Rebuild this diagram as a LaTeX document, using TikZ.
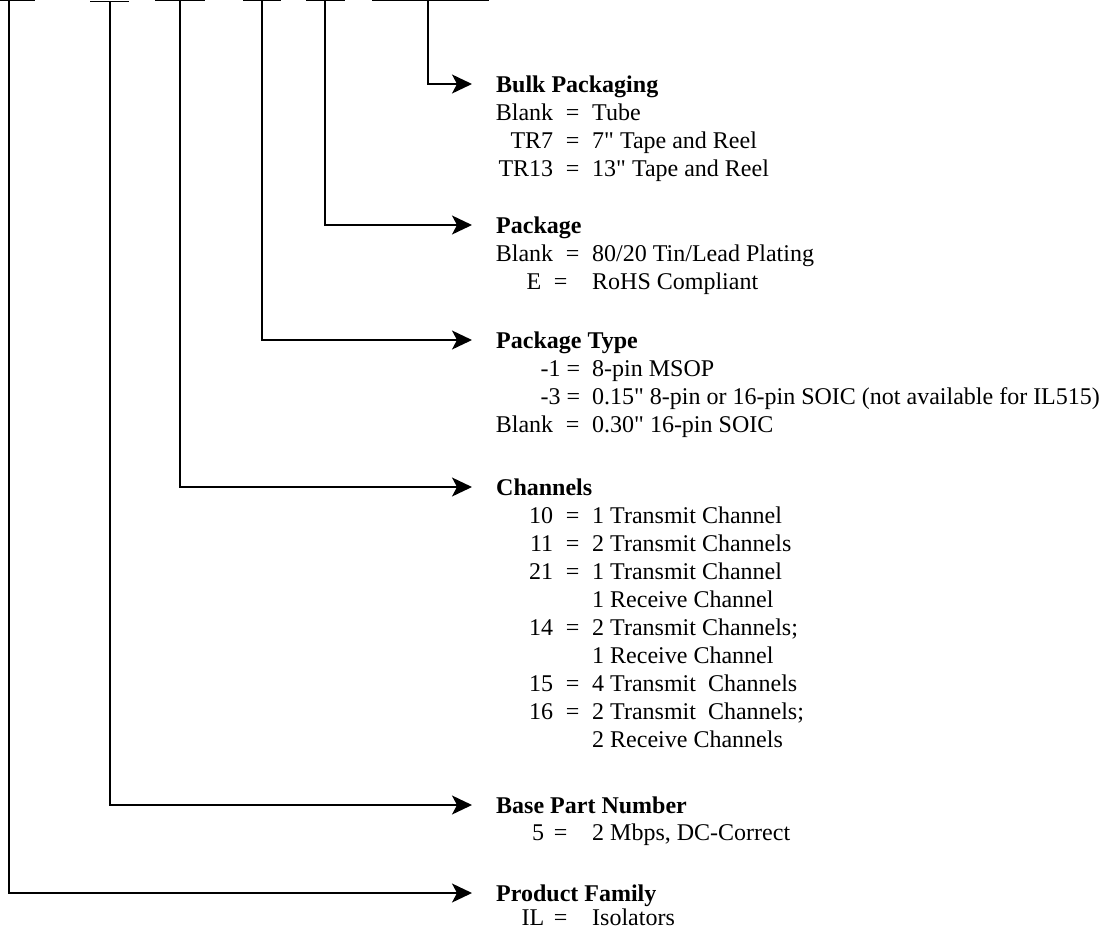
\documentclass[tikz,border=0pt]{standalone}
\usepackage{fontspec}
\setmainfont{Liberation Serif}[Ligatures=TeXOff]
\usetikzlibrary{arrows.meta}
\newcommand{\rw}[2]{\makebox[57pt][r]{#1}\makebox[39pt]{=}#2}
\newcommand{\rc}[1]{\hspace*{96pt}#1}
\begin{document}
\begin{tikzpicture}[x=1pt,y=-1pt,
  bar/.style={line width=1.4pt},
  conn/.style={line width=1.4pt,-{Stealth[length=20pt,width=19pt,inset=5pt]}},
  head/.style={anchor=base west,inner sep=0pt,font=\fontsize{24}{28}\selectfont\bfseries},
  body/.style={anchor=base west,inner sep=0pt,font=\fontsize{24}{28}\selectfont}]
\useasboundingbox (0,0) rectangle (1103,930);
% top placeholder bars
\draw[bar] (0,0.7) -- (35,0.7);
\draw[bar] (90,1.6) -- (129,1.6);
\draw[bar] (155,0.7) -- (205,0.7);
\draw[bar] (243,0.7) -- (281,0.7);
\draw[bar] (306,0.7) -- (345,0.7);
\draw[bar] (372,0.7) -- (489,0.7);
\coordinate (t1) at (9,0.7);
\coordinate (t2) at (110,1.6);
\coordinate (t3) at (180,0.7);
\coordinate (t4) at (262,0.7);
\coordinate (t5) at (325,0.7);
\coordinate (t6) at (428,0.7);
% sections
\node[head] (h6) at (496,92) {Bulk Packaging};
\node[body] (b6) at (496,120) {\begin{tabular}[t]{@{}l@{}}\rw{Blank}{Tube}\\ \rw{TR7}{7" Tape and Reel}\\ \rw{TR13}{13" Tape and Reel}\end{tabular}};
\node[head] (h5) at (496,233) {Package};
\node[body] (b5) at (496,261) {\begin{tabular}[t]{@{}l@{}}\rw{Blank}{80/20 Tin/Lead Plating}\\ \makebox[45pt][r]{E}\makebox[39pt]{=}\hspace*{12pt}RoHS Compliant\end{tabular}};
\node[head] (h4) at (496,348) {Package Type};
\node[body] (b4) at (496,376) {\begin{tabular}[t]{@{}l@{}}\makebox[84pt][r]{-1 =}\hspace*{12pt}8-pin MSOP\\ \makebox[84pt][r]{-3 =}\hspace*{12pt}0.15" 8-pin or 16-pin SOIC (not available for IL515)\\ \rw{Blank}{0.30" 16-pin SOIC}\end{tabular}};
\node[head] (h3) at (496,495) {Channels};
\node[body] (b3) at (496,523) {\begin{tabular}[t]{@{}l@{}}\rw{10}{1 Transmit Channel}\\ \rw{11}{2 Transmit Channels}\\ \rw{21}{1 Transmit Channel}\\ \rc{1 Receive Channel}\\ \rw{14}{2 Transmit Channels;}\\ \rc{1 Receive Channel}\\ \rw{15}{4 Transmit\ \ Channels}\\ \rw{16}{2 Transmit\ \ Channels;}\\ \rc{2 Receive Channels}\end{tabular}};
\node[head] (h2) at (496,813) {Base Part Number};
\node[body] (b2) at (496,840) {\makebox[48pt][r]{5}\makebox[33pt]{=}\hspace*{15pt}2 Mbps, DC-Correct};
\node[head] (h1) at (496,901) {Product Family};
\node[body] (b1) at (496,925) {\makebox[48pt][r]{IL}\makebox[33pt]{=}\hspace*{15pt}Isolators};
% connectors
\draw[conn] (t6) |- ([shift={(-24pt,8pt)}]h6.base west);
\draw[conn] (t5) |- ([shift={(-24pt,8pt)}]h5.base west);
\draw[conn] (t4) |- ([shift={(-24pt,8pt)}]h4.base west);
\draw[conn] (t3) |- ([shift={(-24pt,8pt)}]h3.base west);
\draw[conn] (t2) |- ([shift={(-24pt,8pt)}]h2.base west);
\draw[conn] (t1) |- ([shift={(-24pt,8pt)}]h1.base west);
\end{tikzpicture}
\end{document}
